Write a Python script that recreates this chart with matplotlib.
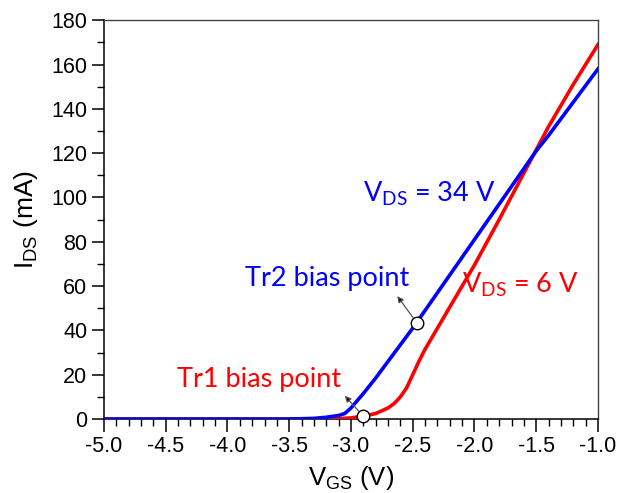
import numpy as np
import matplotlib
matplotlib.use("Agg")
import matplotlib.pyplot as plt
from matplotlib.ticker import MultipleLocator

# VDS = 34 V (blue)
vgs_34 = [-5.0, -3.5, -3.3, -3.2, -3.1, -3.05, -3.0, -2.9, -2.8, -2.7, -2.6, -2.5,
          -2.4, -2.2, -2.0, -1.8, -1.6, -1.5, -1.4, -1.2, -1.0]
ids_34 = [0, 0, 0.3, 0.8, 1.6, 2.5, 5.0, 11.5, 18.5, 26, 33.5, 41,
          49, 65, 81, 97, 113, 121, 128, 143, 158]

# VDS = 6 V (red)
vgs_6 = [-5.0, -3.2, -3.1, -3.0, -2.9, -2.8, -2.7, -2.65, -2.6, -2.55, -2.5, -2.45, -2.4,
         -2.3, -2.2, -2.0, -1.8, -1.6, -1.4, -1.2, -1.0]
ids_6 = [0, 0, 0.2, 0.5, 1.3, 2.5, 5, 7, 10, 14, 20, 26, 31.5,
         41, 50.5, 69.5, 90, 111, 132, 151, 169]

# bias points
tr1 = (-2.9, 1.3)
tr2 = (-2.465, 43.3)

plt.rcParams['font.family'] = ['Liberation Sans', 'DejaVu Sans']

fig = plt.figure(figsize=(6.19, 4.93), dpi=100)
ax = fig.add_axes([0.168, 0.15, 0.798, 0.809])

ax.plot(vgs_6, ids_6, color='#ff0000', lw=2.6, zorder=3)
ax.plot(vgs_34, ids_34, color='#0000ff', lw=2.6, zorder=4)

arr = dict(arrowstyle='-|>', color='#555555', lw=0.9, mutation_scale=9,
           fc='black', ec='#555555', shrinkA=4, shrinkB=0)
ax.annotate('', xy=(-2.625, 55.5), xytext=tr2, arrowprops=arr, zorder=5)
ax.annotate('', xy=(-3.05, 10.5), xytext=tr1, arrowprops=arr, zorder=5)

ax.plot(*tr2, 'o', ms=9, mfc='white', mec='black', mew=1, zorder=6, clip_on=False)
ax.plot(*tr1, 'o', ms=9, mfc='white', mec='black', mew=1, zorder=6, clip_on=False)

txt = dict(family=['Lato', 'DejaVu Sans'], fontsize=19.5)
ax.text(-3.86, 63.5, 'Tr2 bias point', color='#0000ff', va='center', ha='left', **txt)
ax.text(-4.41, 18, 'Tr1 bias point', color='#ff0000', va='center', ha='left', **txt)
ax.text(-2.90, 101.5, r'V$_{\mathregular{DS}}$ = 34 V', color='#0000ff', va='center', ha='left', **txt)
ax.text(-2.10, 60.5, r'V$_{\mathregular{DS}}$ = 6 V', color='#ff0000', va='center', ha='left', **txt)

ax.set_xlim(-5.0, -1.0)
ax.set_ylim(0, 180)
ax.xaxis.set_major_locator(MultipleLocator(0.5))
ax.xaxis.set_minor_locator(MultipleLocator(0.1))
ax.yaxis.set_major_locator(MultipleLocator(20))
ax.yaxis.set_minor_locator(MultipleLocator(10))
ax.xaxis.set_major_formatter(matplotlib.ticker.FormatStrFormatter('%.1f'))
ax.tick_params(which='major', direction='out', length=9, width=1.1, labelsize=15.5)
ax.tick_params(which='minor', direction='out', length=5, width=1.0)
ax.tick_params(axis='x', pad=3)
ax.tick_params(axis='y', pad=3)

for s in ['top', 'right']:
    ax.spines[s].set_color('#444444')
    ax.spines[s].set_linewidth(1.0)
for s in ['left', 'bottom']:
    ax.spines[s].set_linewidth(1.1)

ax.set_xlabel(r'V$_{\mathregular{GS}}$ (V)', fontsize=18.5, labelpad=5)
ax.set_ylabel(r'I$_{\mathregular{DS}}$ (mA)', fontsize=19, labelpad=8)

fig.savefig('out.png', dpi=100)
